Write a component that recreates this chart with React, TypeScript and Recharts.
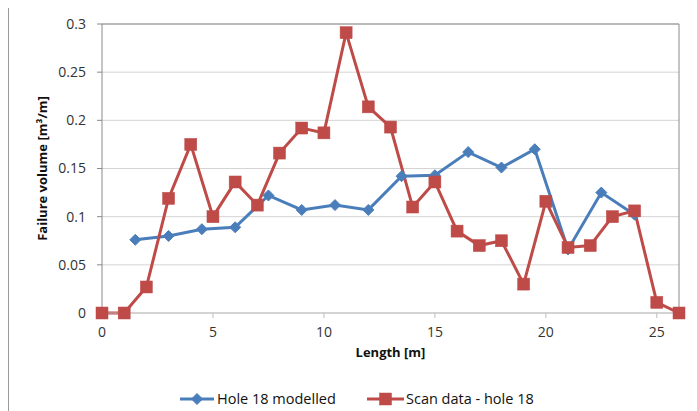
import React from 'react';
import { LineChart, Line, XAxis, YAxis, CartesianGrid, ReferenceLine, Legend } from 'recharts';

const lengthTicks = [0, 5, 10, 15, 20, 25];
const volumeTicks = [0, 0.05, 0.1, 0.15, 0.2, 0.25, 0.3];

const modelledLength = [1.5, 3, 4.5, 6, 7.5, 9, 10.5, 12, 13.5, 15, 16.5, 18, 19.5, 21, 22.5, 24];
const modelledVolume = [0.076, 0.08, 0.087, 0.089, 0.122, 0.107, 0.112, 0.107, 0.142, 0.143, 0.167, 0.151, 0.17, 0.066, 0.125, 0.102];

const scanLength = [0, 1, 2, 3, 4, 5, 6, 7, 8, 9, 10, 11, 12, 13, 14, 15, 16, 17, 18, 19, 20, 21, 22, 23, 24, 25, 26];
const scanVolume = [0, 0, 0.027, 0.119, 0.175, 0.1, 0.136, 0.112, 0.166, 0.192, 0.187, 0.291, 0.214, 0.193, 0.11, 0.136, 0.085, 0.07, 0.075, 0.03, 0.116, 0.068, 0.07, 0.1, 0.106, 0.011, 0];

const modelledName = 'Hole 18 modelled';
const scanName = 'Scan data - hole 18';

const BLUE = '#4a7ebb';
const RED = '#be4b48';
const FONT = '"Open Sans", sans-serif';

const modelled = modelledLength.map((x, i) => ({ x, v: modelledVolume[i] }));
const scan = scanLength.map((x, i) => ({ x, v: scanVolume[i] }));

const Diamond = (props: any) => {
  const { cx, cy } = props;
  if (cx == null || cy == null) return <g key={props.key} />;
  const r = 5.5;
  return (
    <polygon
      key={props.key}
      points={`${cx},${cy - r} ${cx + r},${cy} ${cx},${cy + r} ${cx - r},${cy}`}
      fill={BLUE}
      stroke={BLUE}
    />
  );
};

const Square = (props: any) => {
  const { cx, cy } = props;
  if (cx == null || cy == null) return <g key={props.key} />;
  return <rect key={props.key} x={cx - 6} y={cy - 6} width={12} height={12} fill={RED} stroke={RED} strokeWidth={0.5} />;
};

const XTitle = (props: any) => {
  const vb = props.viewBox;
  return (
    <text x={vb.x + vb.width / 2} y={vb.y + 44} textAnchor="middle" fontFamily={FONT} fontWeight="bold" fontSize={13} fill="#111">
      Length [m]
    </text>
  );
};

const YTitle = (props: any) => {
  const vb = props.viewBox;
  const cx = 37.5;
  const cy = vb.y + vb.height / 2;
  return (
    <text x={cx} y={cy} transform={`rotate(-90, ${cx}, ${cy})`} textAnchor="middle" fontFamily={FONT} fontWeight="bold" fontSize={13} fill="#111">
      Failure volume [m³/m]
    </text>
  );
};

const LegendBox = () => (
  <div style={{ position: 'relative', height: 24, fontFamily: FONT, fontSize: 14.5, color: '#111' }}>
    <svg style={{ position: 'absolute', left: 171, top: 0 }} width={34} height={24}>
      <line x1={0} y1={12} x2={34} y2={12} stroke={BLUE} strokeWidth={3} />
      <Diamond cx={17} cy={12} />
    </svg>
    <span style={{ position: 'absolute', left: 208, top: 2, whiteSpace: 'nowrap' }}>{modelledName}</span>
    <svg style={{ position: 'absolute', left: 358, top: 0 }} width={37} height={24}>
      <line x1={0} y1={12} x2={37} y2={12} stroke={RED} strokeWidth={3} />
      <Square cx={18.5} cy={12} />
    </svg>
    <span style={{ position: 'absolute', left: 397, top: 2, whiteSpace: 'nowrap' }}>{scanName}</span>
  </div>
);

export default function App() {
  return (
    <div
      style={{
        marginTop: -1,
        width: 689,
        height: 404,
        borderLeft: '1px solid #9a9a9a',
        borderTop: '1px solid #9a9a9a',
        boxSizing: 'border-box',
        position: 'relative',
        background: '#fff',
      }}
    >
      <LineChart width={688} height={403} margin={{ top: 16, right: 18, bottom: 0, left: 0 }}>
        <CartesianGrid vertical={false} stroke="#d4d4d4" />
        <XAxis
          dataKey="x"
          type="number"
          domain={[0, 26]}
          ticks={lengthTicks}
          height={74}
          tickSize={5}
          tickMargin={9}
          axisLine={{ stroke: '#bdbdbd' }}
          tickLine={{ stroke: '#bdbdbd' }}
          tick={{ fill: '#333', fontSize: 14, fontFamily: FONT }}
          label={<XTitle />}
        />
        <YAxis
          type="number"
          domain={[0, 0.3]}
          ticks={volumeTicks}
          width={93}
          tickSize={5}
          tickMargin={11}
          axisLine={{ stroke: '#8a8a8a' }}
          tickLine={{ stroke: '#8a8a8a' }}
          tick={{ fill: '#333', fontSize: 14, fontFamily: FONT }}
          label={<YTitle />}
        />
        <ReferenceLine y={0.3} stroke="#8a8a8a" />
        <ReferenceLine x={26} stroke="#8a8a8a" />
        <Legend verticalAlign="bottom" wrapperStyle={{ left: 0, width: 688 }} content={<LegendBox />} />
        <Line
          data={modelled}
          dataKey="v"
          name={modelledName}
          stroke={BLUE}
          strokeWidth={3}
          dot={Diamond}
          activeDot={false}
          isAnimationActive={false}
        />
        <Line
          data={scan}
          dataKey="v"
          name={scanName}
          stroke={RED}
          strokeWidth={3}
          dot={Square}
          activeDot={false}
          isAnimationActive={false}
        />
      </LineChart>
    </div>
  );
}
